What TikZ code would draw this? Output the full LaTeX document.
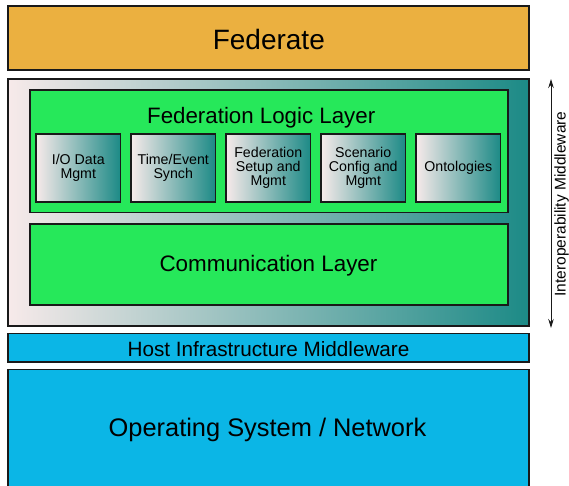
\documentclass[tikz,border=0pt]{standalone}
\usepackage{fontspec}
\setmainfont{Liberation Sans}
\usetikzlibrary{arrows.meta}
\definecolor{fedorange}{RGB}{235,176,64}
\definecolor{laygreen}{RGB}{38,232,90}
\definecolor{hostblue}{RGB}{11,182,230}
\definecolor{gradL}{RGB}{247,234,234}
\definecolor{gradR}{RGB}{28,138,134}
\definecolor{edgecol}{RGB}{25,25,25}
\tikzset{
  layer/.style={rectangle, draw=edgecol, line width=1.5pt, inner sep=0pt},
  gradbox/.style={layer, left color=gradL, right color=gradR},
  greenbox/.style={layer, fill=laygreen},
  subbox/.style={gradbox, minimum width=84.5pt, minimum height=68pt, align=center,
    font=\fontsize{14.2}{14.3}\selectfont},
  lbl/.style={anchor=base, inner sep=0pt},
  iarrow/.style={{Stealth[length=9pt,width=5.5pt]}-{Stealth[length=9pt,width=5.5pt]}, line width=1pt, draw=edgecol}
}
\begin{document}
\begin{tikzpicture}[x=1pt,y=-1pt]
\useasboundingbox (0,0) rectangle (569,485);
% Federate
\node[layer, fill=fedorange, minimum width=521pt, minimum height=64pt] (federate) at (268.5,38) {};
\node[lbl, font=\fontsize{28}{33}\selectfont] (federatetxt) at (268.8,49) {Federate};
% Interoperability middleware
\node[gradbox, minimum width=521pt, minimum height=247pt] (interop) at (268.5,202.5) {};
\node[greenbox, minimum width=478pt, minimum height=122.5pt] (fll) at (269,151.25) {};
\node[lbl, font=\fontsize{22.3}{26}\selectfont] (flltxt) at (261.2,123.3) {Federation Logic Layer};
\node[subbox] (io) at (78.25,168) {I/O Data\\Mgmt};
\node[subbox] (time) at (173.25,168) {Time/Event\\Synch};
\node[subbox] (setup) at (268.25,168) {Federation\\Setup and\\Mgmt};
\node[subbox] (scen) at (363.25,168) {Scenario\\Config and\\Mgmt};
\node[subbox] (onto) at (458.25,168) {Ontologies};
\node[greenbox, minimum width=478pt, minimum height=81pt] (comm) at (269,264.5) {};
\node[lbl, font=\fontsize{22.4}{26}\selectfont] (commtxt) at (268.5,271) {Communication Layer};
% Host infrastructure
\node[layer, fill=hostblue, minimum width=521pt, minimum height=28.5pt] (host) at (268.5,347.75) {};
\node[lbl, font=\fontsize{20.7}{24}\selectfont] (hosttxt) at (268.5,356) {Host Infrastructure Middleware};
% OS / network
\node[layer, fill=hostblue, minimum width=521pt, minimum height=130pt] (os) at (268.5,434.5) {};
\node[lbl, font=\fontsize{25.4}{30}\selectfont] (ostxt) at (267.5,436) {Operating System / Network};
% arrow
\coordinate (atop) at (551,79);
\coordinate (abot) at (551,328);
\draw[iarrow] (atop) -- (abot);
\node[lbl, rotate=90, font=\fontsize{15.5}{18}\selectfont] (itxt) at (565.5,204) {Interoperability Middleware};
\end{tikzpicture}
\end{document}
